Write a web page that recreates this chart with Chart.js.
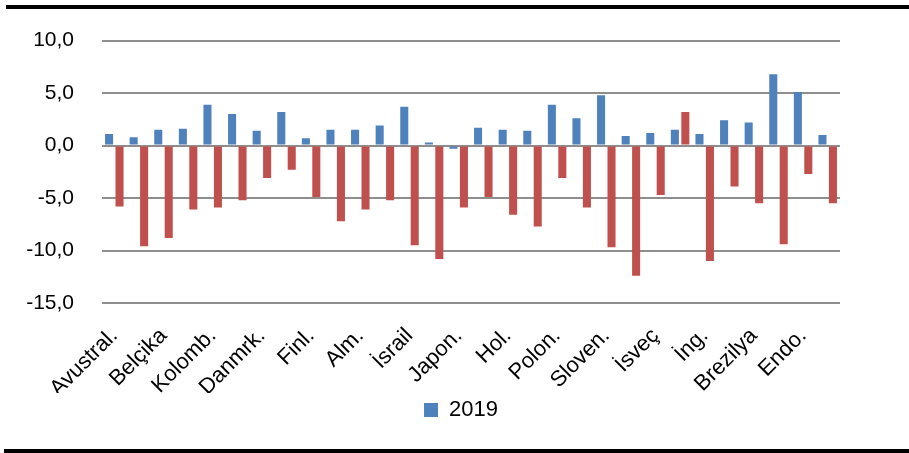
<!DOCTYPE html>
<html>
<head>
<meta charset="utf-8">
<script src="https://cdn.jsdelivr.net/npm/chart.js@4.4.0/dist/chart.umd.min.js"></script>
<style>
  html, body { margin: 0; padding: 0; background: #fff; }
  #wrap { position: relative; width: 909px; height: 453px; }
  #wrap canvas { position: absolute; left: 0; top: 0; }
  .rule { position: absolute; background: #000; right: 0; height: 4px; }
  #rule-top { top: 5px; left: 6px; }
  #rule-bottom { top: 449px; left: 4px; }
</style>
</head>
<body>
<div id="wrap">
  <canvas id="chart" width="909" height="453"></canvas>
  <div class="rule" id="rule-top"></div>
  <div class="rule" id="rule-bottom"></div>
</div>
<script>
// Ülkeler (her ikinci etiket eksende gösteriliyor)
const categories = [
  'Avustral.', 'Avust.', 'Belçika', 'Kanada', 'Kolomb.', 'Çekya',
  'Danmrk.', 'Eston.', 'Finl.', 'Fransa', 'Alm.', 'Macar.',
  'İsrail', 'İtalya', 'Japon.', 'Kore', 'Hol.', 'Norveç',
  'Polon.', 'Portek.', 'Sloven.', 'İspanya', 'İsveç', 'Türkiye',
  'İng.', 'ABD', 'Brezilya', 'Hindis.', 'Endo.', 'Rusya'
];

const values2019 = [
  1.1, 0.8, 1.5, 1.6, 3.9, 3.0, 1.4, 3.2, 0.7, 1.5,
  1.5, 1.9, 3.7, 0.3, -0.3, 1.7, 1.5, 1.4, 3.9, 2.6,
  4.8, 0.9, 1.2, 1.5, 1.1, 2.4, 2.2, 6.8, 5.1, 1.0
];

const values2020 = [
  -5.8, -9.6, -8.8, -6.1, -5.9, -5.2, -3.1, -2.3, -4.9, -7.2,
  -6.1, -5.2, -9.5, -10.8, -5.9, -4.9, -6.6, -7.7, -3.1, -5.9,
  -9.7, -12.4, -4.7, 3.2, -11.0, -3.9, -5.5, -9.4, -2.7, -5.5
];

const yTicks = [-15, -10, -5, 0, 5, 10];

const FONT = 'Liberation Sans';

// Legend'i orijinaldeki gibi biraz sağa kaydır
const legendShift = {
  id: 'legendShift',
  afterLayout(chart) {
    const lg = chart.legend;
    if (!lg) return;
    const w = lg.right - lg.left;
    lg.left = 461 - w / 2;
    lg.right = lg.left + w;
  }
};

new Chart(document.getElementById('chart'), {
  type: 'bar',
  data: {
    labels: categories,
    datasets: [
      {
        label: '2019',
        data: values2019,
        backgroundColor: '#4f81bd',
        categoryPercentage: 0.85,
        barPercentage: 0.77
      },
      {
        label: '2020',
        data: values2020,
        backgroundColor: '#c0504d',
        categoryPercentage: 0.85,
        barPercentage: 0.77
      }
    ]
  },
  plugins: [legendShift],
  options: {
    responsive: false,
    animation: false,
    layout: {
      padding: { top: 27, left: 26, right: 69, bottom: 22 }
    },
    plugins: {
      tooltip: { enabled: false },
      legend: {
        position: 'bottom',
        labels: {
          // sadece 2019 gösteriliyor
          filter: item => item.text === '2019',
          color: '#000',
          font: { family: FONT, size: 22 },
          boxWidth: 14,
          boxHeight: 14,
          padding: 6
        }
      }
    },
    scales: {
      x: {
        grid: { display: false, drawTicks: false },
        border: { display: false },
        // ilk döndürülmüş etiket sol boşluğu büyütmesin
        afterFit: axis => {
          axis.paddingLeft = 0;
          axis.height = 90;
        },
        ticks: {
          autoSkip: false,
          minRotation: 45,
          maxRotation: 45,
          color: '#000',
          font: { family: FONT, size: 22 },
          padding: 20,
          callback: (v, i) => (i % 2 === 0 ? categories[i] : '')
        }
      },
      y: {
        min: yTicks[0],
        max: yTicks[yTicks.length - 1],
        afterBuildTicks: axis => {
          axis.ticks = yTicks.map(v => ({ value: v }));
        },
        afterFit: axis => { axis.width = 76; },
        grid: {
          color: '#8e8e8e',
          lineWidth: 2,
          drawTicks: false
        },
        border: { display: false },
        ticks: {
          color: '#000',
          padding: 28,
          font: { family: FONT, size: 21 },
          callback: v => v.toFixed(1).replace('.', ',')
        }
      }
    }
  }
});
</script>
</body>
</html>
